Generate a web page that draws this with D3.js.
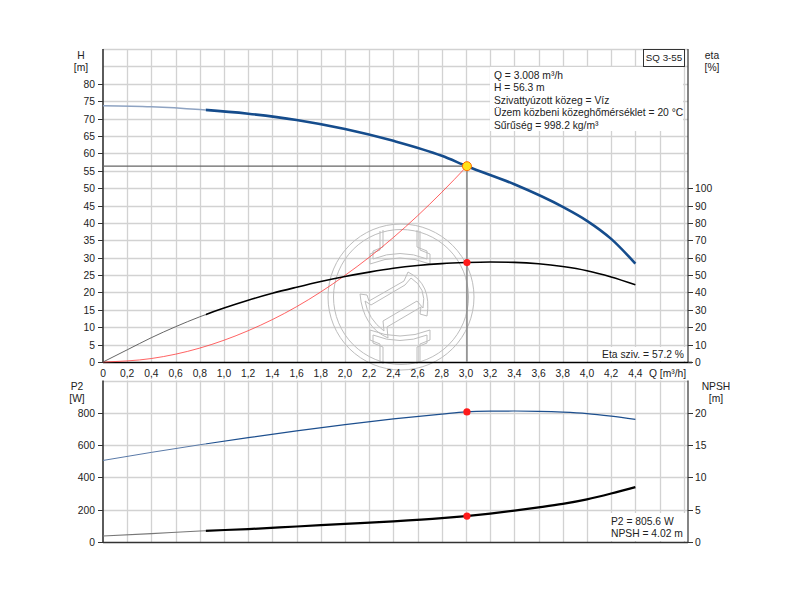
<!DOCTYPE html>
<html><head><meta charset="utf-8">
<script src="https://cdn.jsdelivr.net/npm/d3@7"></script>
<style>
html,body{margin:0;padding:0;background:#fff;}
svg text{font-family:"Liberation Sans",Arial,sans-serif;font-size:10.3px;fill:#222;}
</style></head>
<body><svg id="c" width="800" height="600"></svg>
<script>
// ---- data ----
const qH   = [0, 0.4, 0.8, 1.2, 1.6, 2.0, 2.4, 2.8, 3.008, 3.4, 3.8, 4.0, 4.2, 4.4];
const hVal = [73.7, 73.4, 72.6, 71.4, 69.6, 67.0, 63.6, 59.3, 56.3, 51.1, 44.6, 40.6, 35.4, 28.3];
const qE   = [0, 0.2, 0.4, 0.6, 0.8, 1.0, 1.2, 1.4, 1.6, 1.8, 2.0, 2.2, 2.4, 2.6, 2.8, 3.0, 3.2, 3.4, 3.6, 3.8, 4.0, 4.2, 4.4];
const etaVal = [0, 7, 14, 20.3, 26, 31, 35.5, 39.5, 43, 46.3, 49.2, 51.7, 53.9, 55.5, 56.6, 57.2, 57.5, 57.3, 56.5, 54.9, 52.5, 48.9, 44.4];
const qSys = [0, 0.4, 0.8, 1.2, 1.6, 2.0, 2.4, 2.8, 3.008];
const hSys = [0, 1.0, 4.0, 9.0, 15.9, 24.9, 35.8, 48.8, 56.3];
const qP   = [0, 0.4, 0.8, 1.2, 1.6, 2.0, 2.4, 2.8, 3.0, 3.2, 3.4, 3.6, 3.8, 4.0, 4.2, 4.4];
const p2Val = [505, 555, 602, 646, 688, 727, 762, 792, 805.6, 810, 811, 809, 804, 795, 779, 759];
const npshVal = [0.93, 1.3, 1.7, 2.0, 2.4, 2.8, 3.2, 3.7, 4.02, 4.4, 4.85, 5.35, 5.9, 6.6, 7.5, 8.5];
const opQ = 3.008, opH = 56.3, opEta = 57.2, opP2 = 805.6, opNPSH = 4.02;
const xTicks = [0,0.2,0.4,0.6,0.8,1.0,1.2,1.4,1.6,1.8,2.0,2.2,2.4,2.6,2.8,3.0,3.2,3.4,3.6,3.8,4.0,4.2,4.4];
const hTicks = [0,5,10,15,20,25,30,35,40,45,50,55,60,65,70,75,80];
const etaTicks = [0,10,20,30,40,50,60,70,80,90,100];
const p2Ticks = [0,200,400,600,800];
const npshTicks = [0,5,10,15,20];
const infoLines = ["Q = 3.008 m³/h","H = 56.3 m","Szivattyúzott közeg = Víz","Üzem közbeni közeghőmérséklet = 20 °C","Sűrűség = 998.2 kg/m³"];
const pumpName = "SQ 3-55";
const etaText = "Eta sziv. = 57.2 %";
const bottomTexts = ["P2 = 805.6 W","NPSH = 4.02 m"];

// ---- scales ----
const svg = d3.select("#c");
const L = 103, R = 688;
const x = d3.scaleLinear().domain([0, 4.835]).range([L, R]);
const yH = d3.scaleLinear().domain([0, 90]).range([362, 49]);
const yE = d3.scaleLinear().domain([0, 180]).range([362, 49]);
const yP = d3.scaleLinear().domain([0, 1000]).range([542, 380.5]);
const yN = d3.scaleLinear().domain([0, 25]).range([542, 380.5]);
const fmt = v => (v === 0 ? "0" : d3.format(".1f")(v).replace(".", ","));

// ---- grids ----
const gridQ = d3.range(1, 25).map(i => i * 0.2);
const g = svg.append("g");
function vgrid(y0, y1) {
  g.selectAll(null).data(gridQ).enter().append("line")
    .attr("x1", d => Math.round(x(d)) + 0.5).attr("x2", d => Math.round(x(d)) + 0.5)
    .attr("y1", y0).attr("y2", y1).attr("stroke", "#d2d2d2").attr("stroke-width", 1.3);
}
vgrid(49, 362); vgrid(380.5, 542);
g.selectAll(null).data(d3.range(1, 19).map(i => i * 5)).enter().append("line")
  .attr("x1", L).attr("x2", R).attr("y1", d => Math.round(yH(d)) + 0.5).attr("y2", d => Math.round(yH(d)) + 0.5)
  .attr("stroke", "#d2d2d2").attr("stroke-width", 1.3);
g.selectAll(null).data([200,400,600,800,1000]).enter().append("line")
  .attr("x1", L).attr("x2", R).attr("y1", d => Math.round(yP(d)) + 0.5).attr("y2", d => Math.round(yP(d)) + 0.5)
  .attr("stroke", "#d2d2d2").attr("stroke-width", 1.3);

// ---- watermark logo (decorative) ----
const logo = svg.append("g").attr("transform", "translate(401,297)")
  .attr("fill", "none").attr("stroke", "#bdbdbd").attr("stroke-width", 1);
logo.append("circle").attr("r", 73);
logo.append("circle").attr("r", 67.5);
const topPiece = "M -21,-66 L -21,-47 L -31,-43 L -31,-33 Q -1,-45 29,-33 L 29,-43 L 19,-47 L 19,-66";
const topInner = "M 16,-67 L 16,-50 L 26,-46 L 26,-38 Q -1,-49 -28,-38 L -28,-46 L -18,-50 L -18,-67";
logo.append("path").attr("d", topPiece);
logo.append("path").attr("d", topInner);
logo.append("g").attr("transform", "rotate(180) translate(2,0)").call(s => {
  s.append("path").attr("d", topPiece); s.append("path").attr("d", topInner);
});
logo.append("path").attr("d", "M 7,-25 Q 31,-13 26,19 L 19,17 L 20,10 L -14,30 L -13,41 Q -38,30 -41,-3 L -34,-2 L -32,4 L 3,-16 Z");
logo.append("path").attr("d", "M 10,-19 Q 26,-9 22,11 L 16,4 L -18,24 L -17,34 Q -33,22 -36,4 L -30,8 L 4,-12 Z");

// ---- axes lines ----
const ax = svg.append("g").attr("stroke", "#333");
ax.append("line").attr("x1", L).attr("x2", L).attr("y1", 49).attr("y2", 362).attr("stroke-width", 1.6);
ax.append("line").attr("x1", R).attr("x2", R).attr("y1", 49).attr("y2", 362).attr("stroke-width", 1.2);
ax.append("line").attr("x1", L).attr("x2", R + 4).attr("y1", 362.5).attr("y2", 362.5).attr("stroke-width", 1.3).attr("stroke", "#000");
ax.append("line").attr("x1", L).attr("x2", L).attr("y1", 380.5).attr("y2", 542).attr("stroke-width", 1.6);
ax.append("line").attr("x1", R).attr("x2", R).attr("y1", 380.5).attr("y2", 542).attr("stroke-width", 1.2);
ax.append("line").attr("x1", L).attr("x2", R).attr("y1", 542.5).attr("y2", 542.5).attr("stroke-width", 1.3);

// ticks + labels
function leftTicks(scale, ticks) {
  ticks.forEach(t => {
    const yy = Math.round(scale(t)) + 0.5;
    svg.append("line").attr("x1", L - 5).attr("x2", L).attr("y1", yy).attr("y2", yy).attr("stroke", "#333");
    svg.append("text").attr("x", L - 8).attr("y", yy).attr("dy", "0.35em").attr("text-anchor", "end").text(t);
  });
}
function rightTicks(scale, ticks) {
  ticks.forEach(t => {
    const yy = Math.round(scale(t)) + 0.5;
    svg.append("line").attr("x1", R).attr("x2", R + 5).attr("y1", yy).attr("y2", yy).attr("stroke", "#333");
    svg.append("text").attr("x", R + 7).attr("y", yy).attr("dy", "0.35em").text(t);
  });
}
leftTicks(yH, hTicks); rightTicks(yE, etaTicks);
leftTicks(yP, p2Ticks); rightTicks(yN, npshTicks);
xTicks.forEach(t => {
  svg.append("text").attr("x", x(t)).attr("y", 373).attr("dy", "0.35em").attr("text-anchor", "middle").text(fmt(t));
});
svg.append("text").attr("x", 649).attr("y", 373).attr("dy", "0.35em").text("Q [m³/h]");

// axis titles
function title(xx, yy, a, b) {
  svg.append("text").attr("x", xx).attr("y", yy).attr("dy", "0.35em").attr("text-anchor", "middle").text(a);
  svg.append("text").attr("x", xx).attr("y", yy + 12).attr("dy", "0.35em").attr("text-anchor", "middle").text(b);
}
title(81, 55, "H", "[m]"); title(712, 55, "eta", "[%]");
title(77, 386, "P2", "[W]"); title(716, 386, "NPSH", "[m]");

// ---- curves ----
const defs = svg.append("defs");
defs.append("clipPath").attr("id", "thick").append("rect").attr("x", x(0.85)).attr("y", 0).attr("width", 800).attr("height", 600);
defs.append("clipPath").attr("id", "thin").append("rect").attr("x", 0).attr("y", 0).attr("width", x(0.85)).attr("height", 600);
const mk = (qs, vs) => qs.map((q, i) => [q, vs[i]]);
const lineOf = (ys) => d3.line().x(d => x(d[0])).y(d => ys(d[1])).curve(d3.curveMonotoneX);

function twoPart(data, ys, thinCol, thinW, col, w) {
  svg.append("path").attr("d", lineOf(ys)(data)).attr("fill", "none").attr("stroke", thinCol).attr("stroke-width", thinW).attr("clip-path", "url(#thin)");
  svg.append("path").attr("d", lineOf(ys)(data)).attr("fill", "none").attr("stroke", col).attr("stroke-width", w).attr("clip-path", "url(#thick)");
}
// system curve
svg.append("path").attr("d", lineOf(yH)(mk(qSys, hSys))).attr("fill", "none").attr("stroke", "#ff3b3b").attr("stroke-width", 0.8);
// op ref lines
svg.append("line").attr("x1", L).attr("x2", x(opQ)).attr("y1", yH(opH)).attr("y2", yH(opH)).attr("stroke", "#666").attr("stroke-width", 1.2);
svg.append("line").attr("x1", x(opQ)).attr("x2", x(opQ)).attr("y1", yH(opH)).attr("y2", 362).attr("stroke", "#888").attr("stroke-width", 1.5);

twoPart(mk(qE, etaVal), yE, "#555", 0.9, "#000", 1.6);
twoPart(mk(qH, hVal), yH, "#8ea3c2", 1.4, "#154c8c", 2.6);
twoPart(mk(qP, p2Val), yP, "#5a7aa8", 1, "#1d4f8e", 1.2);
twoPart(mk(qP, npshVal), yN, "#777", 1.2, "#000", 2.2);

// points
svg.append("circle").attr("cx", x(opQ)).attr("cy", yE(opEta)).attr("r", 3.6).attr("fill", "#ff1a1a");
svg.append("circle").attr("cx", x(opQ)).attr("cy", yH(opH)).attr("r", 4.5).attr("fill", "#ffe21a").attr("stroke", "#ff6a00").attr("stroke-width", 1);
svg.append("circle").attr("cx", x(opQ)).attr("cy", yP(opP2)).attr("r", 3.6).attr("fill", "#ff1a1a");
svg.append("circle").attr("cx", x(opQ)).attr("cy", yN(opNPSH)).attr("r", 3.6).attr("fill", "#ff1a1a");

// ---- info boxes ----
svg.append("rect").attr("x", 490).attr("y", 67).attr("width", 193).attr("height", 64).attr("fill", "#fff");
infoLines.forEach((t, i) => {
  svg.append("text").attr("x", 494).attr("y", 75 + i * 12.6).attr("dy", "0.35em").text(t);
});
svg.append("rect").attr("x", 643.5).attr("y", 49.5).attr("width", 41).attr("height", 17).attr("fill", "#fff").attr("stroke", "#333");
svg.append("text").attr("x", 664).attr("y", 58).attr("dy", "0.35em").attr("text-anchor", "middle").style("font-size", "9.8px").text(pumpName);

svg.append("rect").attr("x", 597).attr("y", 347).attr("width", 90).attr("height", 14).attr("fill", "#fff");
svg.append("text").attr("x", 684).attr("y", 354).attr("dy", "0.35em").attr("text-anchor", "end").text(etaText);

svg.append("rect").attr("x", 608).attr("y", 513).attr("width", 79).attr("height", 28).attr("fill", "#fff");
bottomTexts.forEach((t, i) => {
  svg.append("text").attr("x", 611).attr("y", 521 + i * 12.8).attr("dy", "0.35em").text(t);
});
</script></body></html>
